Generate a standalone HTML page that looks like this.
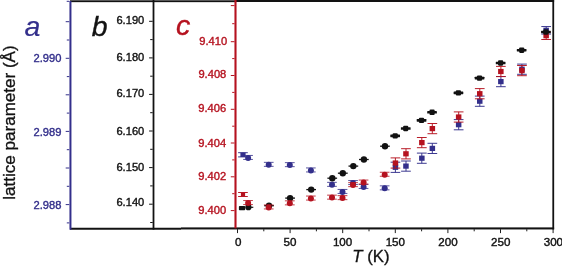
<!DOCTYPE html>
<html><head><meta charset="utf-8"><title>lattice parameter</title>
<style>html,body{margin:0;padding:0;background:#fff}svg{display:block}text{font-family:"Liberation Sans",sans-serif}</style></head>
<body>
<svg width="562" height="266" viewBox="0 0 562 266">
<rect width="562" height="266" fill="#fff"/>
<path d="M243.0 152.7V156.9M238.1 152.70H247.8M238.1 156.90H247.8" stroke="#332f8b" stroke-width="0.95" fill="none"/><rect x="240.4" y="152.6" width="5.2" height="4.4" fill="#332f8b"/>
<path d="M248.1 155.4V159.4M243.2 155.45H252.9M243.2 159.45H252.9" stroke="#332f8b" stroke-width="0.82" fill="none"/><circle cx="248.1" cy="157.9" r="3.0" fill="#332f8b"/>
<path d="M268.7 162.3V166.3M263.9 162.35H273.6M263.9 166.35H273.6" stroke="#332f8b" stroke-width="0.82" fill="none"/><circle cx="268.7" cy="164.8" r="3.0" fill="#332f8b"/>
<path d="M289.8 162.7V166.7M284.9 162.65H294.7M284.9 166.65H294.7" stroke="#332f8b" stroke-width="0.82" fill="none"/><circle cx="289.8" cy="165.1" r="3.0" fill="#332f8b"/>
<path d="M310.9 167.9V171.9M306.0 167.95H315.7M306.0 171.95H315.7" stroke="#332f8b" stroke-width="0.82" fill="none"/><circle cx="310.9" cy="170.4" r="3.0" fill="#332f8b"/>
<path d="M332.0 182.3V186.3M327.1 182.35H336.8M327.1 186.35H336.8" stroke="#332f8b" stroke-width="0.82" fill="none"/><circle cx="332.0" cy="184.8" r="3.0" fill="#332f8b"/>
<path d="M342.5 189.4V193.4M337.6 189.45H347.4M337.6 193.45H347.4" stroke="#332f8b" stroke-width="0.82" fill="none"/><circle cx="342.5" cy="191.9" r="3.0" fill="#332f8b"/>
<path d="M353.0 180.6V184.6M348.2 180.55H357.9M348.2 184.55H357.9" stroke="#332f8b" stroke-width="0.82" fill="none"/><circle cx="353.0" cy="183.0" r="3.0" fill="#332f8b"/>
<path d="M363.6 184.4V188.4M358.7 184.45H368.4M358.7 188.45H368.4" stroke="#332f8b" stroke-width="0.82" fill="none"/><circle cx="363.6" cy="186.9" r="3.0" fill="#332f8b"/>
<path d="M384.7 185.8V189.8M379.8 185.85H389.5M379.8 189.85H389.5" stroke="#332f8b" stroke-width="0.82" fill="none"/><circle cx="384.7" cy="188.3" r="3.0" fill="#332f8b"/>
<path d="M395.4 162.2V172.4M390.6 162.20H400.3M390.6 172.40H400.3" stroke="#332f8b" stroke-width="0.95" fill="none"/><rect x="392.7" y="164.7" width="5.5" height="5.2" fill="#332f8b"/>
<path d="M406.0 161.0V171.2M401.1 161.00H410.8M401.1 171.20H410.8" stroke="#332f8b" stroke-width="0.95" fill="none"/><rect x="403.2" y="163.5" width="5.5" height="5.2" fill="#332f8b"/>
<path d="M421.8 153.1V163.3M416.9 153.10H426.7M416.9 163.30H426.7" stroke="#332f8b" stroke-width="0.95" fill="none"/><rect x="419.1" y="155.6" width="5.5" height="5.2" fill="#332f8b"/>
<path d="M432.3 143.3V153.5M427.5 143.30H437.2M427.5 153.50H437.2" stroke="#332f8b" stroke-width="0.95" fill="none"/><rect x="429.6" y="145.8" width="5.5" height="5.2" fill="#332f8b"/>
<path d="M458.7 119.6V129.8M453.8 119.60H463.5M453.8 129.80H463.5" stroke="#332f8b" stroke-width="0.95" fill="none"/><rect x="455.9" y="122.1" width="5.5" height="5.2" fill="#332f8b"/>
<path d="M479.8 96.1V106.3M474.9 96.10H484.6M474.9 106.30H484.6" stroke="#332f8b" stroke-width="0.95" fill="none"/><rect x="477.0" y="98.6" width="5.5" height="5.2" fill="#332f8b"/>
<path d="M500.9 76.5V86.7M496.0 76.50H505.7M496.0 86.70H505.7" stroke="#332f8b" stroke-width="0.95" fill="none"/><rect x="498.1" y="79.0" width="5.5" height="5.2" fill="#332f8b"/>
<path d="M521.9 64.1V74.3M517.1 64.10H526.8M517.1 74.30H526.8" stroke="#332f8b" stroke-width="0.95" fill="none"/><rect x="519.2" y="66.6" width="5.5" height="5.2" fill="#332f8b"/>
<path d="M546.2 26.6V34.0M541.3 26.55H551.0M541.3 34.05H551.0" stroke="#332f8b" stroke-width="0.95" fill="none"/><rect x="543.4" y="27.7" width="5.5" height="5.2" fill="#332f8b"/>
<rect x="238.9" y="205.9" width="6.3" height="4.3" rx="0.8" fill="#121212"/>
<path d="M246 207.3H253.3" stroke="#121212" stroke-width="1.2"/><circle cx="248.4" cy="207.2" r="3.1" fill="#121212"/>
<path d="M264.2 205.7H273.9" stroke="#121212" stroke-width="1.3" fill="none"/><circle cx="269.0" cy="205.7" r="3.2" fill="#121212"/>
<path d="M285.2 198.1H295.0" stroke="#121212" stroke-width="1.3" fill="none"/><circle cx="290.1" cy="198.1" r="3.2" fill="#121212"/>
<path d="M306.3 189.6H316.0" stroke="#121212" stroke-width="1.3" fill="none"/><circle cx="311.2" cy="189.6" r="3.2" fill="#121212"/>
<path d="M327.4 178.2H337.1" stroke="#121212" stroke-width="1.3" fill="none"/><circle cx="332.3" cy="178.2" r="3.2" fill="#121212"/>
<path d="M337.9 173.2H347.7" stroke="#121212" stroke-width="1.3" fill="none"/><circle cx="342.8" cy="173.2" r="3.2" fill="#121212"/>
<path d="M348.5 166.1H358.2" stroke="#121212" stroke-width="1.3" fill="none"/><circle cx="353.3" cy="166.1" r="3.2" fill="#121212"/>
<path d="M359.0 159.5H368.7" stroke="#121212" stroke-width="1.3" fill="none"/><circle cx="363.9" cy="159.5" r="3.2" fill="#121212"/>
<path d="M380.1 146.2H389.8" stroke="#121212" stroke-width="1.3" fill="none"/><circle cx="385.0" cy="146.2" r="3.2" fill="#121212"/>
<path d="M243.0 192.5V196.5M238.1 192.50H247.8M238.1 196.50H247.8" stroke="#b5121f" stroke-width="0.95" fill="none"/><rect x="240.9" y="192.7" width="4.2" height="3.6" fill="#b5121f"/>
<path d="M248.1 200.6V204.6M243.2 200.55H252.9M243.2 204.55H252.9" stroke="#b5121f" stroke-width="0.82" fill="none"/><circle cx="248.1" cy="203.0" r="3.0" fill="#b5121f"/>
<path d="M268.7 204.9V208.9M263.9 204.95H273.6M263.9 208.95H273.6" stroke="#b5121f" stroke-width="0.82" fill="none"/><circle cx="268.7" cy="207.4" r="3.0" fill="#b5121f"/>
<path d="M289.8 200.8V204.8M284.9 200.85H294.7M284.9 204.85H294.7" stroke="#b5121f" stroke-width="0.82" fill="none"/><circle cx="289.8" cy="203.3" r="3.0" fill="#b5121f"/>
<path d="M310.9 196.1V200.1M306.0 196.05H315.7M306.0 200.05H315.7" stroke="#b5121f" stroke-width="0.82" fill="none"/><circle cx="310.9" cy="198.5" r="3.0" fill="#b5121f"/>
<path d="M332.0 195.2V199.2M327.1 195.15H336.8M327.1 199.15H336.8" stroke="#b5121f" stroke-width="0.82" fill="none"/><circle cx="332.0" cy="197.6" r="3.0" fill="#b5121f"/>
<path d="M342.5 195.7V199.7M337.6 195.65H347.4M337.6 199.65H347.4" stroke="#b5121f" stroke-width="0.82" fill="none"/><circle cx="342.5" cy="198.1" r="3.0" fill="#b5121f"/>
<path d="M353.0 182.7V186.7M348.2 182.65H357.9M348.2 186.65H357.9" stroke="#b5121f" stroke-width="0.82" fill="none"/><circle cx="353.0" cy="185.1" r="3.0" fill="#b5121f"/>
<path d="M363.6 180.1V184.1M358.7 180.05H368.4M358.7 184.05H368.4" stroke="#b5121f" stroke-width="0.82" fill="none"/><circle cx="363.6" cy="182.5" r="3.0" fill="#b5121f"/>
<path d="M384.7 172.2V176.2M379.8 172.25H389.5M379.8 176.25H389.5" stroke="#b5121f" stroke-width="0.82" fill="none"/><circle cx="384.7" cy="174.7" r="3.0" fill="#b5121f"/>
<path d="M395.4 157.9V168.1M390.6 157.90H400.3M390.6 168.10H400.3" stroke="#b5121f" stroke-width="0.95" fill="none"/><rect x="392.7" y="160.4" width="5.5" height="5.2" fill="#b5121f"/>
<path d="M406.0 148.7V158.9M401.1 148.70H410.8M401.1 158.90H410.8" stroke="#b5121f" stroke-width="0.95" fill="none"/><rect x="403.2" y="151.2" width="5.5" height="5.2" fill="#b5121f"/>
<path d="M421.8 137.5V147.7M416.9 137.50H426.7M416.9 147.70H426.7" stroke="#b5121f" stroke-width="0.95" fill="none"/><rect x="419.1" y="140.0" width="5.5" height="5.2" fill="#b5121f"/>
<path d="M432.3 123.5V133.7M427.5 123.50H437.2M427.5 133.70H437.2" stroke="#b5121f" stroke-width="0.95" fill="none"/><rect x="429.6" y="126.0" width="5.5" height="5.2" fill="#b5121f"/>
<path d="M458.7 111.9V122.1M453.8 111.90H463.5M453.8 122.10H463.5" stroke="#b5121f" stroke-width="0.95" fill="none"/><rect x="455.9" y="114.4" width="5.5" height="5.2" fill="#b5121f"/>
<path d="M479.8 88.6V98.8M474.9 88.60H484.6M474.9 98.80H484.6" stroke="#b5121f" stroke-width="0.95" fill="none"/><rect x="477.0" y="91.1" width="5.5" height="5.2" fill="#b5121f"/>
<path d="M500.9 66.4V76.6M496.0 66.40H505.7M496.0 76.60H505.7" stroke="#b5121f" stroke-width="0.95" fill="none"/><rect x="498.1" y="68.9" width="5.5" height="5.2" fill="#b5121f"/>
<path d="M521.9 65.5V75.7M517.1 65.50H526.8M517.1 75.70H526.8" stroke="#b5121f" stroke-width="0.95" fill="none"/><rect x="519.2" y="68.0" width="5.5" height="5.2" fill="#b5121f"/>
<path d="M546.2 32.0V39.5M541.3 32.00H551.0M541.3 39.50H551.0" stroke="#b5121f" stroke-width="0.95" fill="none"/><rect x="543.4" y="33.1" width="5.5" height="5.2" fill="#b5121f"/>
<rect x="390.3" y="134.6" width="9.7" height="2.6" rx="0.4" fill="#121212"/><rect x="392.6" y="133.2" width="5.2" height="5.4" rx="1.1" fill="#121212"/>
<rect x="400.9" y="127.2" width="9.7" height="2.6" rx="0.4" fill="#121212"/><rect x="403.1" y="125.8" width="5.2" height="5.4" rx="1.1" fill="#121212"/>
<rect x="416.7" y="119.1" width="9.7" height="2.6" rx="0.4" fill="#121212"/><rect x="418.9" y="117.7" width="5.2" height="5.4" rx="1.1" fill="#121212"/>
<rect x="427.2" y="111.0" width="9.7" height="2.6" rx="0.4" fill="#121212"/><rect x="429.5" y="109.6" width="5.2" height="5.4" rx="1.1" fill="#121212"/>
<rect x="453.6" y="91.6" width="9.7" height="2.6" rx="0.4" fill="#121212"/><rect x="455.8" y="90.2" width="5.2" height="5.4" rx="1.1" fill="#121212"/>
<rect x="474.7" y="76.8" width="9.7" height="2.6" rx="0.4" fill="#121212"/><rect x="476.9" y="75.4" width="5.2" height="5.4" rx="1.1" fill="#121212"/>
<rect x="495.8" y="61.7" width="9.7" height="2.6" rx="0.4" fill="#121212"/><rect x="498.0" y="60.3" width="5.2" height="5.4" rx="1.1" fill="#121212"/>
<rect x="516.8" y="48.9" width="9.7" height="2.6" rx="0.4" fill="#121212"/><rect x="519.1" y="47.5" width="5.2" height="5.4" rx="1.1" fill="#121212"/>
<rect x="541.1" y="30.7" width="9.7" height="2.6" rx="0.4" fill="#121212"/><rect x="543.3" y="29.3" width="5.2" height="5.4" rx="1.1" fill="#121212"/>
<rect x="70" y="0.3" width="166" height="1.85" fill="#121212"/><rect x="235" y="0" width="319.1" height="2" fill="#121212"/>
<rect x="70" y="227.75" width="111" height="2" fill="#121212"/><rect x="181" y="227.4" width="373.1" height="2.05" fill="#121212"/>
<path d="M553.25 0V229.4" stroke="#121212" stroke-width="1.8"/>
<path d="M153.5 0V229.6" stroke="#121212" stroke-width="1.8"/>
<path d="M70.45 1V229.7" stroke="#332f8b" stroke-width="2.0"/>
<path d="M235.5 0V228.4" stroke="#b5121f" stroke-width="2.1"/>
<path d="M66.7 1.3H69.3M65.7 21.7H69.3M66.8 40.0H69.3M65.7 58.3H69.3M66.8 76.6H69.3M65.7 94.8H69.3M66.8 113.1H69.3M65.7 131.4H69.3M66.8 149.7H69.3M65.7 168.0H69.3M66.8 186.3H69.3M65.7 204.6H69.3M66.8 222.9H69.3" stroke="#332f8b" stroke-width="1.0"/>
<path d="M149.1 21.3H152.7M150.2 39.6H152.7M149.1 57.9H152.7M150.2 76.2H152.7M149.1 94.4H152.7M150.2 112.7H152.7M149.1 131.0H152.7M150.2 149.3H152.7M149.1 167.6H152.7M150.2 185.9H152.7M149.1 204.2H152.7M150.2 222.5H152.7" stroke="#121212" stroke-width="1.0"/>
<path d="M230.8 5.6H234.5M232.2 23.7H234.5M230.8 41.7H234.5M232.2 58.6H234.5M230.8 75.5H234.5M232.2 92.4H234.5M230.8 109.3H234.5M232.2 126.2H234.5M230.8 143.0H234.5M232.2 159.9H234.5M230.8 176.8H234.5M232.2 193.7H234.5M230.8 210.6H234.5" stroke="#b5121f" stroke-width="1.0"/>
<path d="M237.5 229.2V233.1M263.8 229.2V231.29999999999998M290.1 229.2V233.1M316.4 229.2V231.29999999999998M342.7 229.2V233.1M369.0 229.2V231.29999999999998M395.3 229.2V233.1M421.6 229.2V231.29999999999998M447.9 229.2V233.1M474.2 229.2V231.29999999999998M500.5 229.2V233.1M526.8 229.2V231.29999999999998M553.1 229.2V233.1" stroke="#121212" stroke-width="0.95"/>
<text x="61.45" y="62.4"  font-size="11.15" text-anchor="end" fill="#332f8b" stroke="#332f8b" stroke-width="0.38">2.990</text>
<text x="61.45" y="135.6"  font-size="11.15" text-anchor="end" fill="#332f8b" stroke="#332f8b" stroke-width="0.38">2.989</text>
<text x="61.45" y="208.7"  font-size="11.15" text-anchor="end" fill="#332f8b" stroke="#332f8b" stroke-width="0.38">2.988</text>
<text x="144.3" y="24.1"  font-size="11.15" text-anchor="end" fill="#121212" stroke="#121212" stroke-width="0.38">6.190</text>
<text x="144.3" y="61.1"  font-size="11.15" text-anchor="end" fill="#121212" stroke="#121212" stroke-width="0.38">6.180</text>
<text x="144.3" y="97.4"  font-size="11.15" text-anchor="end" fill="#121212" stroke="#121212" stroke-width="0.38">6.170</text>
<text x="144.3" y="135.2"  font-size="11.15" text-anchor="end" fill="#121212" stroke="#121212" stroke-width="0.38">6.160</text>
<text x="144.3" y="170.5"  font-size="11.15" text-anchor="end" fill="#121212" stroke="#121212" stroke-width="0.38">6.150</text>
<text x="144.3" y="206.3"  font-size="11.15" text-anchor="end" fill="#121212" stroke="#121212" stroke-width="0.38">6.140</text>
<text x="227.2" y="45.4"  font-size="11.15" text-anchor="end" fill="#b5121f" stroke="#b5121f" stroke-width="0.38">9.410</text>
<text x="226.3" y="78.2"  font-size="11.15" text-anchor="end" fill="#b5121f" stroke="#b5121f" stroke-width="0.38">9.408</text>
<text x="226.2" y="112.0"  font-size="11.15" text-anchor="end" fill="#b5121f" stroke="#b5121f" stroke-width="0.38">9.406</text>
<text x="226.2" y="146.8"  font-size="11.15" text-anchor="end" fill="#b5121f" stroke="#b5121f" stroke-width="0.38">9.404</text>
<text x="226.2" y="179.5"  font-size="11.15" text-anchor="end" fill="#b5121f" stroke="#b5121f" stroke-width="0.38">9.402</text>
<text x="226.1" y="214.3"  font-size="11.15" text-anchor="end" fill="#b5121f" stroke="#b5121f" stroke-width="0.38">9.400</text>
<text x="238.3" y="245.7"  font-size="11.6" text-anchor="middle" fill="#121212" stroke="#121212" stroke-width="0.4">0</text>
<text x="289.9" y="245.7"  font-size="11.6" text-anchor="middle" fill="#121212" stroke="#121212" stroke-width="0.4">50</text>
<text x="342.6" y="245.7"  font-size="11.6" text-anchor="middle" fill="#121212" stroke="#121212" stroke-width="0.4">100</text>
<text x="395.3" y="245.7"  font-size="11.6" text-anchor="middle" fill="#121212" stroke="#121212" stroke-width="0.4">150</text>
<text x="448.0" y="245.7"  font-size="11.6" text-anchor="middle" fill="#121212" stroke="#121212" stroke-width="0.4">200</text>
<text x="500.7" y="245.7"  font-size="11.6" text-anchor="middle" fill="#121212" stroke="#121212" stroke-width="0.4">250</text>
<text x="553.4" y="245.7"  font-size="11.6" text-anchor="middle" fill="#121212" stroke="#121212" stroke-width="0.4">300</text>
<text transform="translate(352.2 262) scale(1.07 1)"  font-size="15.7" fill="#121212" stroke="#121212" stroke-width="0.3"><tspan font-style="italic">T</tspan> (K)</text>
<text transform="translate(15.1 199.7) rotate(-90) scale(1.066 1)"  font-size="16" fill="#121212" stroke="#121212" stroke-width="0.32">lattice parameter (Å)</text>
<text x="24.5" y="35.8"  font-size="28.5" font-style="italic" fill="#332f8b" stroke="#332f8b" stroke-width="0.2">a</text>
<text x="91.7" y="35.5"  font-size="28.4" font-style="italic" fill="#121212" stroke="#121212" stroke-width="0.4">b</text>
<text x="176" y="35.45"  font-size="28.5" font-style="italic" fill="#b5121f" stroke="#b5121f" stroke-width="0.4">c</text>
</svg>
</body></html>
